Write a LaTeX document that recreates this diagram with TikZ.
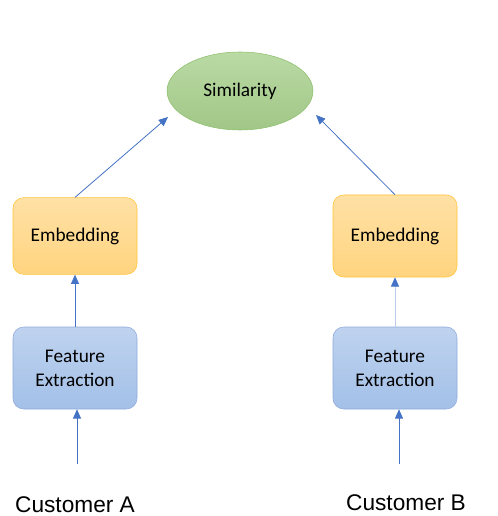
\documentclass[tikz,border=0pt]{standalone}
\usepackage{fontspec}
\setmainfont{Carlito}
\newfontfamily\labelfont{Liberation Sans}
\usetikzlibrary{positioning, shapes.geometric, arrows.meta}
\definecolor{simfill}{HTML}{A9D18E}
\definecolor{simdraw}{HTML}{8DBF6C}
\definecolor{embfill}{HTML}{FFD47F}
\definecolor{embdraw}{HTML}{FFC436}
\definecolor{featfill}{HTML}{A3C0E8}
\definecolor{featdraw}{HTML}{8EAADB}
\definecolor{arrblue}{HTML}{4472C4}

\begin{document}
\begin{tikzpicture}[
    x=0.75pt, y=-0.75pt,
    sim/.style={ellipse, draw=simdraw, top color=simfill!80!white,
                bottom color=simfill!95!black, minimum width=109.5pt,
                minimum height=58.5pt, font=\fontsize{14.5}{17}\selectfont},
    emb/.style={rectangle, rounded corners=8pt, draw=embdraw,
                top color=embfill!70!white, bottom color=embfill,
                minimum width=93pt, minimum height=57.5pt, align=center,
                font=\fontsize{14.5}{17}\selectfont},
    feat/.style={rectangle, rounded corners=8pt, draw=featdraw,
                top color=featfill!70!white, bottom color=featfill,
                minimum width=93pt, minimum height=61.5pt, align=center,
                font=\fontsize{14.5}{18}\selectfont},
    cust/.style={font=\labelfont\fontsize{17}{20}\selectfont, inner sep=1pt},
    arr/.style={-{Triangle[length=7pt, width=6pt, color=arrblue]}, arrblue,
                line width=0.6pt},
    ]
    \useasboundingbox (0,0) rectangle (498,516);

    \node[sim] (sim) at (240,91) {Similarity};
    \coordinate (simA) at (168,117);
    \coordinate (simB) at (316,115);

    % customer A
    \node[emb]  (embA)  at (75,236) {Embedding};
    \node[feat] (featA) at (75,368) {Feature\\Extraction};
    \node[cust] (custA) at (75,505) {Customer A};
    \coordinate (inA) at (77,464);

    % customer B
    \node[emb, minimum height=61.5pt] (embB) at (395,236) {Embedding};
    \node[feat] (featB) at (395,368) {Feature\\Extraction};
    \node[cust] (custB) at (406,503) {Customer B};
    \coordinate (inB) at (399,464);

    \draw[arr] (inA) -- (inA |- featA.south);
    \draw[arr] (inB) -- (inB |- featB.south);
    \draw[arr] (featA.north) -- (embA.south);
    \draw[arr, arrblue!35] (featB.north) -- (embB.south);
    \draw[arr] (embA.north) -- (simA);
    \draw[arr] (embB.north) -- (simB);

\end{tikzpicture}
\end{document}
